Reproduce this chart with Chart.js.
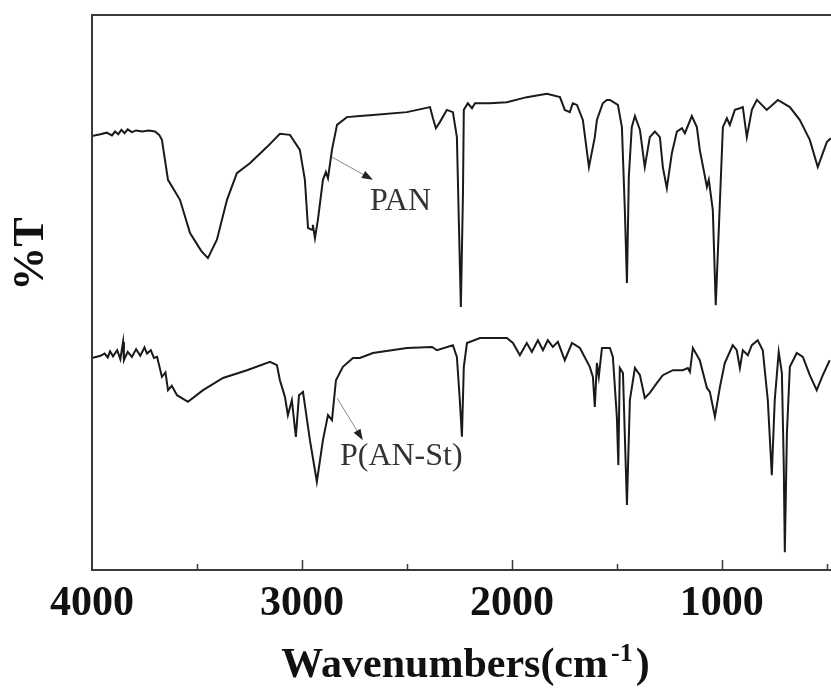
<!DOCTYPE html>
<html>
<head>
<meta charset="utf-8">
<title>FTIR PAN / P(AN-St)</title>
<script src="https://cdn.jsdelivr.net/npm/chart.js@4.4.0/dist/chart.umd.min.js"></script>
<style>
    html, body { margin: 0; padding: 0; background: #fff; }
    #wrap { width: 831px; height: 688px; position: relative; }
</style>
</head>
<body>
<div id="wrap"><canvas id="ftir-chart"></canvas></div>
<script>
// Data spektrum PAN (bilangan gelombang cm-1, %T)
const panWn = [4000,3960,3930,3905,3890,3875,3860,3845,3830,3810,
    3790,3760,3730,3700,3680,3667,3638,3581,3533,3480,
    3448,3405,3357,3310,3248,3167,3105,3057,3010,2986,
    2971,2952,2948,2938,2924,2900,2886,2876,2857,2833,
    2786,2724,2662,2500,2390,2376,2362,2343,2310,2281,
    2262,2252,2243,2233,2229,2210,2190,2176,2105,2024,
    1929,1833,1771,1748,1724,1710,1690,1662,1633,1605,
    1595,1567,1548,1533,1495,1476,1462,1452,1443,1429,
    1414,1390,1367,1343,1319,1295,1281,1262,1238,1214,
    1190,1176,1143,1119,1105,1071,1062,1043,1029,1014,
    995,976,962,938,914,900,881,857,833,786,
    733,676,629,581,543,500,481];
const panT = [78.2,78.5,78.8,78.3,79.0,78.5,79.3,78.7,79.4,78.9,
    79.2,79.0,79.2,79.0,78.4,77.5,70.3,66.7,60.7,57.5,
    56.2,59.5,66.7,71.5,73.3,76.2,78.6,78.4,75.7,70.3,
    61.6,61.3,62.2,59.8,63.1,70.3,71.7,70.6,75.7,80.2,
    81.6,81.8,82.0,82.5,83.4,81.4,79.6,80.7,82.9,82.5,
    78.0,61.8,47.4,67.9,82.9,84.1,83.2,84.1,84.1,84.3,
    85.2,85.8,85.2,82.9,82.5,84.1,83.8,81.1,72.6,78.0,
    81.1,84.1,84.7,84.7,83.8,79.8,64.9,51.7,70.8,79.8,
    81.8,79.3,72.6,78.0,79.0,78.0,72.6,68.8,75.1,79.0,
    79.6,78.7,81.8,79.8,75.7,69.0,70.3,64.9,47.7,61.8,
    79.8,81.4,80.2,82.9,83.2,83.4,78.0,82.9,84.7,82.9,
    84.7,83.4,81.1,77.5,72.6,77.1,77.8];

// Data spektrum P(AN-St)
const pstWn = [4000,3960,3940,3925,3914,3900,3880,3865,3852,3848,
    3830,3810,3790,3770,3750,3738,3720,3705,3690,3667,
    3650,3638,3620,3595,3543,3471,3376,3262,3152,3119,
    3105,3081,3067,3048,3029,3014,2995,2962,2929,2900,
    2876,2857,2838,2805,2757,2724,2662,2500,2380,2357,
    2281,2262,2248,2238,2229,2214,2152,2024,1995,1962,
    1929,1905,1876,1852,1829,1805,1781,1748,1714,1676,
    1629,1614,1605,1595,1586,1571,1533,1519,1500,1493,
    1486,1471,1452,1438,1414,1390,1367,1343,1309,1281,
    1233,1186,1162,1152,1138,1105,1071,1057,1033,1009,
    986,948,929,914,900,876,857,829,805,781,
    762,748,729,714,705,700,690,676,643,614,
    581,548,519,486];
const pstT = [38.2,38.6,39.0,38.3,39.4,38.5,39.6,38.0,41.1,37.8,
    39.3,38.4,39.8,38.6,40.1,39.0,39.6,38.2,38.4,34.8,
    35.6,32.4,33.2,31.5,30.3,32.4,34.6,36.0,37.5,36.9,
    34.2,31.2,27.9,30.6,24.0,31.5,32.1,23.4,15.9,23.4,
    27.9,27.0,34.2,36.6,38.2,38.2,39.1,40.0,40.2,39.6,
    40.5,38.4,30.6,24.0,36.6,40.9,41.8,41.8,40.9,38.7,
    40.9,39.3,41.4,39.6,41.4,40.2,41.1,37.8,40.9,40.0,
    36.6,34.8,29.4,37.3,34.8,40.0,40.0,38.4,27.6,18.9,
    36.4,35.5,11.7,30.6,36.4,35.1,31.0,31.9,33.7,35.1,
    36.0,36.0,36.4,35.7,40.0,37.8,32.8,32.1,27.6,33.0,
    37.3,40.5,39.6,36.4,39.6,38.7,40.5,41.4,39.6,30.6,
    17.1,30.6,39.3,35.5,18.9,3.2,24.7,36.6,39.1,38.4,
    35.1,32.4,35.1,37.8];

// Tick sumbu x (mayor bertulisan, minor tanpa tulisan)
const majorTicks = [4000, 3000, 2000, 1000];
const minorTicks = [3500, 2500, 1500, 500];
const xMax = 4000;
const xMin = 480;

// Label seri dengan panah penunjuk
const seriesLabels = ['PAN', 'P(AN-St)'];

const FONT = '"Liberation Serif", "Times New Roman", serif';

function toPoints(xs, ys) {
    return xs.map((x, i) => ({ x: x, y: ys[i] }));
}

// Plugin untuk bingkai, tick ke dalam, judul sumbu dan anotasi
const ftirDecor = {
    id: 'ftirDecor',
    afterDraw(chart) {
        const ctx = chart.ctx;
        const area = chart.chartArea;
        const xs = chart.scales.x;
        const ys = chart.scales.y;
        ctx.save();

        // bingkai kiri, atas, bawah
        ctx.strokeStyle = '#3a3a3a';
        ctx.lineWidth = 2;
        ctx.beginPath();
        ctx.moveTo(area.right, area.top);
        ctx.lineTo(area.left, area.top);
        ctx.lineTo(area.left, area.bottom);
        ctx.lineTo(area.right, area.bottom);
        ctx.stroke();

        // tick mengarah ke dalam
        ctx.lineWidth = 1.5;
        const drawTick = (v, len) => {
            const px = Math.round(xs.getPixelForValue(v)) + 0.5;
            ctx.beginPath();
            ctx.moveTo(px, area.bottom);
            ctx.lineTo(px, area.bottom - len);
            ctx.stroke();
        };
        majorTicks.forEach(v => { if (v < xMax) drawTick(v, 10); });
        minorTicks.forEach(v => drawTick(v, 6));

        // judul sumbu x dengan pangkat -1
        ctx.fillStyle = '#111';
        ctx.textBaseline = 'alphabetic';
        const mainFont = 'bold 42px ' + FONT;
        const supFont = 'bold 26px ' + FONT;
        ctx.font = mainFont;
        const w1 = ctx.measureText('Wavenumbers(cm').width;
        const w3 = ctx.measureText(')').width;
        ctx.font = supFont;
        const w2 = ctx.measureText('-1').width;
        const total = w1 + w2 + w3 + 6;
        let tx = (area.left + area.right) / 2 - total / 2 + 4;
        const base = 677;
        ctx.textAlign = 'left';
        ctx.font = mainFont;
        ctx.fillText('Wavenumbers(cm', tx, base);
        tx += w1 + 3;
        ctx.font = supFont;
        ctx.fillText('-1', tx, base - 16);
        tx += w2 + 3;
        ctx.font = mainFont;
        ctx.fillText(')', tx, base);

        // label sumbu y
        ctx.save();
        ctx.translate(32, 254);
        ctx.rotate(-Math.PI / 2);
        ctx.font = 'bold 44px ' + FONT;
        ctx.textAlign = 'center';
        ctx.textBaseline = 'middle';
        ctx.fillText('%T', 0, 0);
        ctx.restore();

        // anotasi seri
        const notes = [
            { text: seriesLabels[0], x: 2676, y: 64.9, from: [2857, 74.4], to: [2662, 70.3] },
            { text: seriesLabels[1], x: 2819, y: 18.9, from: [2833, 31.0], to: [2710, 23.4] }
        ];
        notes.forEach(n => {
            const x0 = xs.getPixelForValue(n.from[0]), y0 = ys.getPixelForValue(n.from[1]);
            const x1 = xs.getPixelForValue(n.to[0]), y1 = ys.getPixelForValue(n.to[1]);
            const ang = Math.atan2(y1 - y0, x1 - x0);
            ctx.strokeStyle = '#8a8a8a';
            ctx.lineWidth = 1;
            ctx.beginPath();
            ctx.moveTo(x0, y0);
            ctx.lineTo(x1 - 8 * Math.cos(ang), y1 - 8 * Math.sin(ang));
            ctx.stroke();
            ctx.fillStyle = '#222';
            ctx.beginPath();
            ctx.moveTo(x1, y1);
            ctx.lineTo(x1 - 11 * Math.cos(ang) + 4 * Math.sin(ang), y1 - 11 * Math.sin(ang) - 4 * Math.cos(ang));
            ctx.lineTo(x1 - 11 * Math.cos(ang) - 4 * Math.sin(ang), y1 - 11 * Math.sin(ang) + 4 * Math.cos(ang));
            ctx.closePath();
            ctx.fill();

            ctx.fillStyle = '#333';
            ctx.font = '32px ' + FONT;
            ctx.textAlign = 'left';
            ctx.textBaseline = 'alphabetic';
            ctx.fillText(n.text, xs.getPixelForValue(n.x), ys.getPixelForValue(n.y));
        });

        ctx.restore();
    }
};

document.addEventListener('DOMContentLoaded', function() {
    const ctx = document.getElementById('ftir-chart').getContext('2d');
    new Chart(ctx, {
        type: 'line',
        data: {
            datasets: [
                {
                    label: seriesLabels[0],
                    data: toPoints(panWn, panT),
                    borderColor: '#1a1a1a',
                    borderWidth: 2,
                    pointRadius: 0,
                    tension: 0,
                    fill: false
                },
                {
                    label: seriesLabels[1],
                    data: toPoints(pstWn, pstT),
                    borderColor: '#1a1a1a',
                    borderWidth: 2,
                    pointRadius: 0,
                    tension: 0,
                    fill: false
                }
            ]
        },
        options: {
            responsive: true,
            maintainAspectRatio: false,
            animation: false,
            layout: {
                padding: { left: 92, top: 15, right: 0, bottom: 0 }
            },
            plugins: {
                legend: { display: false },
                tooltip: { enabled: false }
            },
            scales: {
                x: {
                    type: 'linear',
                    reverse: true,
                    min: xMin,
                    max: xMax,
                    afterFit: function(scale) { scale.height = 118; },
                    afterBuildTicks: function(scale) {
                        scale.ticks = majorTicks.map(v => ({ value: v }));
                    },
                    grid: { display: false, drawTicks: false },
                    border: { display: false },
                    ticks: {
                        autoSkip: false,
                        maxRotation: 0,
                        padding: 9,
                        color: '#111',
                        font: { family: FONT, size: 42, weight: 'bold' },
                        callback: function(value) { return String(value); }
                    }
                },
                y: {
                    display: false,
                    min: 0,
                    max: 100
                }
            }
        },
        plugins: [ftirDecor]
    });
});
</script>
</body>
</html>
